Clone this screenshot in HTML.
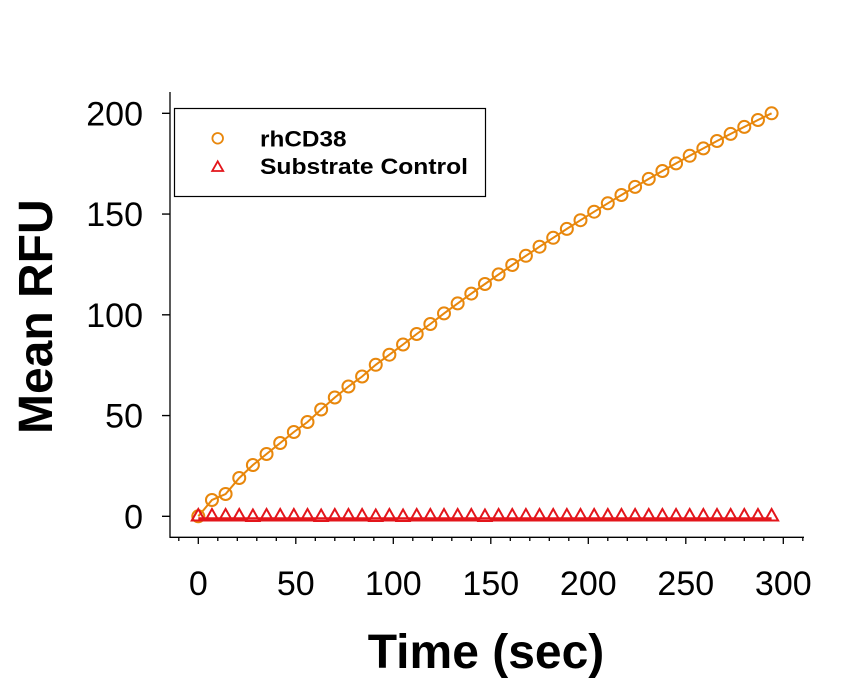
<!DOCTYPE html>
<html>
<head>
<meta charset="utf-8">
<style>
html,body{margin:0;padding:0;background:#fff;}
svg{display:block;}
text{font-family:"Liberation Sans",Arial,sans-serif;fill:#000;}
</style>
</head>
<body>
<svg width="847" height="687" viewBox="0 0 847 687" xmlns="http://www.w3.org/2000/svg">
<defs>
<marker id="mc" markerUnits="userSpaceOnUse" markerWidth="20" markerHeight="20" refX="10" refY="10" overflow="visible">
<circle cx="10" cy="10" r="6" fill="none" stroke="#e8870c" stroke-width="2"/>
</marker>
<marker id="mt" markerUnits="userSpaceOnUse" markerWidth="20" markerHeight="20" refX="10" refY="10" overflow="visible">
<polygon points="10,1 3.5,12.5 16.5,12.5" fill="none" stroke="#e3151b" stroke-width="2"/>
</marker>
</defs>
<rect width="847" height="687" fill="#fff"/>
<g stroke="#000" stroke-width="1.3" fill="none">
<path d="M170 92V537.3M169.4 537.3H804"/>
<path d="M162 113.3H170M162 214.05H170M162 314.8H170M162 415.55H170M162 516.3H170"/>
<path d="M198.3 537.3V544M295.8 537.3V544M393.3 537.3V544M490.8 537.3V544M588.3 537.3V544M685.8 537.3V544M783.3 537.3V544"/>
<path d="M178.8 537.3V541M217.8 537.3V541M237.3 537.3V541M256.8 537.3V541M276.3 537.3V541M315.3 537.3V541M334.8 537.3V541M354.3 537.3V541M373.8 537.3V541M412.8 537.3V541M432.3 537.3V541M451.8 537.3V541M471.3 537.3V541M510.3 537.3V541M529.8 537.3V541M549.3 537.3V541M568.8 537.3V541M607.8 537.3V541M627.3 537.3V541M646.8 537.3V541M666.3 537.3V541M705.3 537.3V541M724.8 537.3V541M744.3 537.3V541M763.8 537.3V541M802.8 537.3V541"/>
</g>
<g font-size="34" text-anchor="end">
<text x="143" y="125.5">200</text>
<text x="143" y="226.2">150</text>
<text x="143" y="327">100</text>
<text x="143" y="427.7">50</text>
<text x="143" y="528.5">0</text>
</g>
<g font-size="34" text-anchor="middle">
<text x="198.3" y="595">0</text>
<text x="295.8" y="595">50</text>
<text x="393.3" y="595">100</text>
<text x="490.8" y="595">150</text>
<text x="588.3" y="595">200</text>
<text x="685.8" y="595">250</text>
<text x="783.3" y="595">300</text>
</g>
<text x="486" y="668" font-size="48" font-weight="bold" text-anchor="middle">Time (sec)</text>
<text transform="translate(52,316.7) rotate(-90)" font-size="48" font-weight="bold" text-anchor="middle">Mean RFU</text>
<polyline fill="none" stroke="#e8870c" stroke-width="2" marker-start="url(#mc)" marker-mid="url(#mc)" marker-end="url(#mc)" points="198.3,516.3 211.95,500 225.6,494 239.25,478 252.9,465 266.55,454 280.2,443 293.85,432 307.5,422 321.15,409.5 334.8,397.5 348.45,386.5 362.1,376.5 375.75,364.8 389.4,354.7 403.05,344.5 416.7,334 430.35,324 444,313.4 457.65,303.4 471.3,293.6 484.95,284 498.6,274.4 512.25,265 525.9,255.8 539.55,246.7 553.2,237.8 566.85,228.9 580.5,220.2 594.15,211.7 607.8,203.3 621.45,195 635.1,186.9 648.75,178.9 662.4,171 676.05,163.4 689.7,155.8 703.35,148.4 717,141 730.65,133.9 744.3,126.9 757.95,120 771.6,113.3"/>
<line x1="198.3" y1="518.5" x2="771.6" y2="518.5" stroke="#e3151b" stroke-width="2.4"/>
<polyline fill="none" stroke="none" marker-start="url(#mt)" marker-mid="url(#mt)" marker-end="url(#mt)" points="198.3,518 211.95,518 225.6,518 239.25,518 252.9,518.5 266.55,518 280.2,518 293.85,518 307.5,518 321.15,518.5 334.8,518 348.45,518 362.1,518 375.75,518.5 389.4,518 403.05,518.5 416.7,518 430.35,518 444,518 457.65,518 471.3,518 484.95,518.5 498.6,518 512.25,518 525.9,518 539.55,518 553.2,518 566.85,518 580.5,518 594.15,518 607.8,518 621.45,518 635.1,518 648.75,518 662.4,518 676.05,518 689.7,518 703.35,518 717,518 730.65,518 744.3,518 757.95,518 771.6,518"/>
<rect x="174.5" y="108.5" width="311" height="88" fill="#fff" stroke="#000" stroke-width="1.2"/>
<circle cx="217.7" cy="138.3" r="5.3" fill="none" stroke="#e8870c" stroke-width="1.8"/>
<polygon points="217.7,161.3 212.2,171 223.2,171" fill="none" stroke="#e3151b" stroke-width="1.8"/>
<text x="260" y="146.5" font-size="22" font-weight="bold" textLength="86.5" lengthAdjust="spacingAndGlyphs">rhCD38</text>
<text x="260" y="174" font-size="22" font-weight="bold" textLength="208" lengthAdjust="spacingAndGlyphs">Substrate Control</text>
</svg>
</body>
</html>
